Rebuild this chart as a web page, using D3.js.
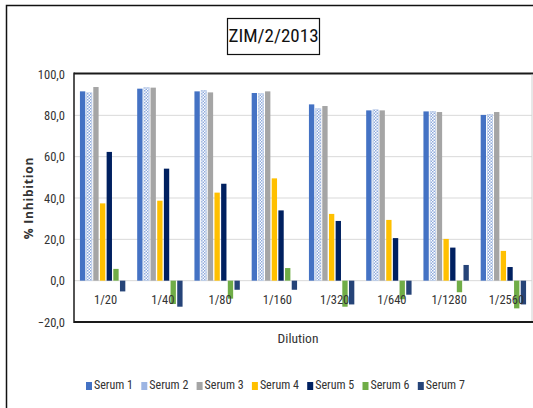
<!DOCTYPE html>
<html>
<head>
<meta charset="utf-8">
<script src="https://cdn.jsdelivr.net/npm/d3@7"></script>
<style>
  html, body { margin: 0; padding: 0; background: #fff; }
  svg { display: block; }
  .narrow { font-family: "Liberation Sans Narrow", "Arial Narrow", "Roboto Condensed", "Liberation Sans", sans-serif; }
</style>
</head>
<body>
<svg id="chart" width="533" height="408"></svg>
<script>
// Dilution categories along the x axis
const dilutions = ["1/20", "1/40", "1/80", "1/160", "1/320", "1/640", "1/1280", "1/2560"];
const seriesNames = ["Serum 1", "Serum 2", "Serum 3", "Serum 4", "Serum 5", "Serum 6", "Serum 7"];

// % inhibition per serum, one value per dilution
const serum1 = [91.6, 92.9, 91.6, 90.8, 85.3, 82.4, 81.9, 80.2];
const serum2 = [90.9, 93.4, 92.1, 90.5, 83.2, 82.7, 81.9, 80.5];
const serum3 = [93.7, 93.4, 91.1, 91.6, 84.5, 82.4, 81.6, 81.6];
const serum4 = [37.4, 38.7, 42.6, 49.5, 32.3, 29.4, 20.2, 14.4];
const serum5 = [62.3, 54.2, 46.9, 34.0, 28.9, 20.6, 16.0, 6.6];
const serum6 = [5.7, -11.3, -8.7, 6.1, -12.6, -9.0, -5.6, -13.4];
const serum7 = [-5.2, -12.6, -4.4, -4.4, -11.5, -6.8, 7.6, -11.5];

const yTicks = [-20, 0, 20, 40, 60, 80, 100];

const allSeries = [serum1, serum2, serum3, serum4, serum5, serum6, serum7];
const colors = ["#4472C4", "url(#serum2Pattern)", "#A5A5A5", "#FFC000", "#002060", "#70AD47", "#264478"];
const legendColors = ["#4472C4", "#9DB5E3", "#A5A5A5", "#FFC000", "#002060", "#70AD47", "#264478"];

const svg = d3.select("#chart");
const fmt = v => d3.format(".1f")(v).replace(".", ",");

// checkered fill used for Serum 2
const defs = svg.append("defs");
const pat = defs.append("pattern")
  .attr("id", "serum2Pattern")
  .attr("patternUnits", "userSpaceOnUse")
  .attr("width", 3).attr("height", 3);
pat.append("rect").attr("width", 3).attr("height", 3).attr("fill", "#ffffff");
pat.append("rect").attr("x", 0).attr("y", 0).attr("width", 1.5).attr("height", 1.5).attr("fill", "#8EA9DB");
pat.append("rect").attr("x", 1.5).attr("y", 1.5).attr("width", 1.5).attr("height", 1.5).attr("fill", "#8EA9DB");

svg.append("rect").attr("width", 533).attr("height", 408).attr("fill", "#fff");

// outer chart frame
svg.append("rect")
  .attr("x", 6.5).attr("y", 5.5).attr("width", 560).attr("height", 440)
  .attr("fill", "none").attr("stroke", "#111").attr("stroke-width", 1.5);

const plot = { left: 74, right: 532, top: 74, bottom: 322 };

const y = d3.scaleLinear().domain([-20, 100]).range([plot.bottom, plot.top]);
const x0 = d3.scaleBand().domain(dilutions).range([plot.left, plot.right])
  .paddingInner(0.184).paddingOuter(0.092);
const x1 = d3.scaleBand().domain(seriesNames).range([0, x0.bandwidth()])
  .paddingInner(0.2).paddingOuter(0.1);

// gridlines
svg.append("g")
  .selectAll("line")
  .data(yTicks.filter(t => t > -20 && t < 100))
  .join("line")
  .attr("x1", plot.left).attr("x2", plot.right)
  .attr("y1", d => y(d)).attr("y2", d => y(d))
  .attr("stroke", "#D9D9D9").attr("stroke-width", 1);

// bars
const groups = svg.append("g")
  .selectAll("g")
  .data(seriesNames.map((name, i) => ({ name, i, values: allSeries[i] })))
  .join("g")
  .attr("fill", d => colors[d.i]);

groups.selectAll("rect")
  .data(d => d.values.map((v, j) => ({ name: d.name, cat: dilutions[j], v })))
  .join("rect")
  .attr("x", d => x0(d.cat) + x1(d.name))
  .attr("width", x1.bandwidth())
  .attr("y", d => y(Math.max(0, d.v)))
  .attr("height", d => Math.abs(y(d.v) - y(0)));

// Serum 2 outline
groups.filter(d => d.i === 1).selectAll("rect")
  .attr("stroke", "#B4C7E7").attr("stroke-width", 0.6);

// plot frame: dark on top, left, bottom; light on right
svg.append("line").attr("x1", plot.left).attr("x2", plot.right + 1)
  .attr("y1", plot.top - 0.5).attr("y2", plot.top - 0.5)
  .attr("stroke", "#1a1a1a").attr("stroke-width", 2);
svg.append("line").attr("x1", plot.left).attr("x2", plot.right + 1)
  .attr("y1", plot.bottom).attr("y2", plot.bottom)
  .attr("stroke", "#1a1a1a").attr("stroke-width", 2);
svg.append("line").attr("x1", plot.left).attr("x2", plot.left)
  .attr("y1", plot.top - 1.5).attr("y2", plot.bottom + 1)
  .attr("stroke", "#1a1a1a").attr("stroke-width", 1.5);
svg.append("line").attr("x1", plot.right).attr("x2", plot.right)
  .attr("y1", plot.top + 0.5).attr("y2", plot.bottom - 1)
  .attr("stroke", "#D0D0D0").attr("stroke-width", 1);

// y axis labels
const yAxis = d3.axisLeft(y).tickValues(yTicks).tickSize(0).tickPadding(9).tickFormat(fmt);
svg.append("g")
  .attr("transform", `translate(${plot.left},0)`)
  .call(yAxis)
  .call(g => g.select(".domain").remove())
  .call(g => g.selectAll("text")
    .attr("class", "narrow")
    .attr("font-size", 12.5)
    .attr("fill", "#333"));

// category labels, next to the zero line
const xAxis = d3.axisBottom(x0).tickSize(0).tickPadding(14);
svg.append("g")
  .attr("transform", `translate(3,${y(0)})`)
  .call(xAxis)
  .call(g => g.select(".domain").remove())
  .call(g => g.selectAll("text")
    .attr("class", "narrow")
    .attr("font-size", 12.5)
    .attr("fill", "#333"));

// axis titles
svg.append("text")
  .attr("class", "narrow")
  .attr("x", 298).attr("y", 343)
  .attr("text-anchor", "middle")
  .attr("font-size", 13.5).attr("fill", "#333")
  .text("Dilution");

svg.append("text")
  .attr("transform", `translate(33,${(plot.top + plot.bottom) / 2}) rotate(-90)`)
  .attr("text-anchor", "middle")
  .attr("font-family", "'Open Sans', 'DejaVu Sans', sans-serif")
  .attr("font-weight", "bold")
  .attr("font-size", 12)
  .attr("letter-spacing", 0.8)
  .attr("fill", "#333")
  .text("% Inhibition");

// boxed title
svg.append("rect")
  .attr("x", 227.5).attr("y", 18.5).attr("width", 92).attr("height", 36)
  .attr("fill", "#fff").attr("stroke", "#111").attr("stroke-width", 1.2);
svg.append("text")
  .attr("class", "narrow")
  .attr("x", 273.5).attr("y", 37)
  .attr("text-anchor", "middle").attr("dominant-baseline", "middle")
  .attr("font-size", 19).attr("fill", "#111")
  .text("ZIM/2/2013");

// legend
const legend = svg.append("g")
  .selectAll("g")
  .data(seriesNames)
  .join("g")
  .attr("transform", (d, i) => `translate(${86 + i * 55.3},386)`);
legend.append("rect")
  .attr("x", 0).attr("y", -4).attr("width", 6).attr("height", 8)
  .attr("fill", (d, i) => legendColors[i]);
legend.append("text")
  .attr("class", "narrow")
  .attr("x", 8).attr("y", 0)
  .attr("dominant-baseline", "middle")
  .attr("font-size", 12).attr("fill", "#333")
  .text(d => d);
</script>
</body>
</html>
